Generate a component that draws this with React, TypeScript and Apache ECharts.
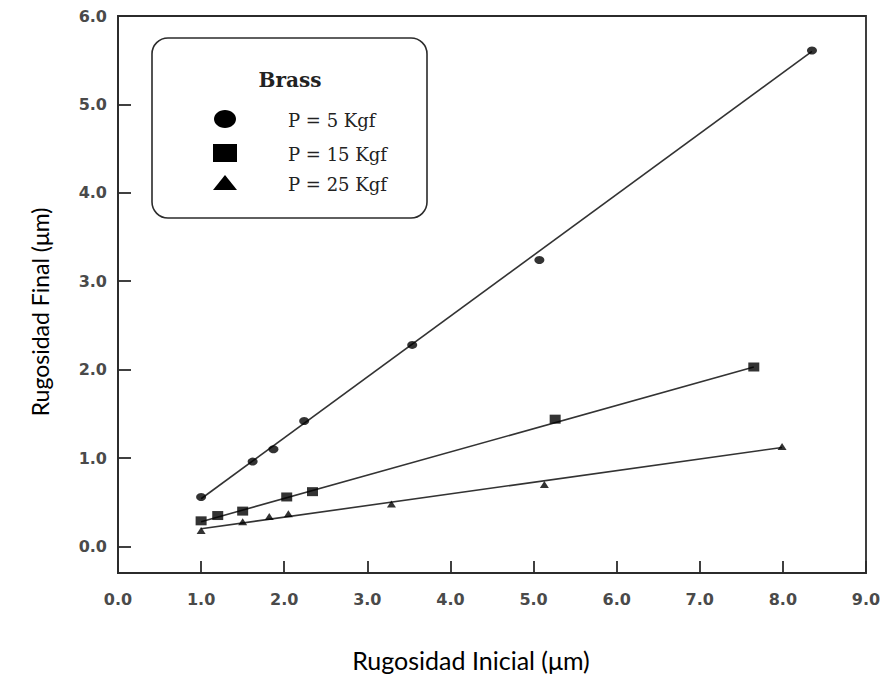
import React, { useEffect, useRef } from "react";
import * as echarts from "echarts";

// Data
const p5Points: [number, number][] = [
  [1.0, 0.56], [1.62, 0.96], [1.87, 1.1], [2.24, 1.42], [3.54, 2.28], [5.07, 3.24], [8.35, 5.61],
];
const p15Points: [number, number][] = [
  [1.0, 0.29], [1.2, 0.35], [1.5, 0.4], [2.03, 0.56], [2.34, 0.62], [5.26, 1.44], [7.65, 2.03],
];
const p25Points: [number, number][] = [
  [1.0, 0.18], [1.5, 0.28], [1.82, 0.34], [2.05, 0.37], [3.29, 0.48], [5.13, 0.7], [7.99, 1.13],
];
// Fitted straight lines (end points)
const p5Fit: [number, number][] = [[1.0, 0.54], [8.35, 5.6]];
const p15Fit: [number, number][] = [[1.0, 0.28], [7.65, 2.03]];
const p25Fit: [number, number][] = [[1.0, 0.2], [7.99, 1.12]];

const seriesNames = ["P = 5 Kgf", "P = 15 Kgf", "P = 25 Kgf"];
const legendTitle = "Brass";
const xTicks = [0, 1, 2, 3, 4, 5, 6, 7, 8, 9];
const yTicks = [0, 1, 2, 3, 4, 5, 6];
const xTitle = "Rugosidad Inicial (μm)";
const yTitle = "Rugosidad Final (μm)";

export default function App() {
  const ref = useRef<HTMLDivElement>(null);
  useEffect(() => {
    if (!ref.current) return;
    const chart = echarts.init(ref.current, null, { renderer: "svg" });
    const ink = "#2b2b2b";
    const tickFont = {
      fontFamily: "DejaVu Sans",
      fontWeight: "bold" as const,
      fontSize: 16,
      color: "#4a4a4a",
    };
    const lineStyle = { color: "#333", width: 1.6 };
    const legendFont = "DejaVu Serif";
    chart.setOption({
      animation: false,
      backgroundColor: "#fff",
      grid: {
        left: 118,
        right: 19,
        top: 16,
        bottom: 103,
        show: true,
        borderColor: ink,
        borderWidth: 1.8,
        backgroundColor: "transparent",
      },
      xAxis: {
        type: "value",
        min: 0,
        max: 9,
        interval: 1,
        axisLine: { show: true, onZero: false, lineStyle: { color: ink, width: 1.8 } },
        axisTick: { show: true, inside: true, length: 12, lineStyle: { color: ink, width: 1.8 }, customValues: xTicks },
        axisLabel: { ...tickFont, margin: 18, customValues: xTicks, formatter: (v: number) => v.toFixed(1) },
        splitLine: { show: false },
      },
      yAxis: {
        type: "value",
        min: -0.3,
        max: 6,
        axisLine: { show: true, onZero: false, lineStyle: { color: ink, width: 1.8 } },
        axisTick: { show: true, inside: true, length: 13, lineStyle: { color: ink, width: 1.8 }, customValues: yTicks },
        axisLabel: { ...tickFont, margin: 11, customValues: yTicks, formatter: (v: number) => v.toFixed(1) },
        splitLine: { show: false },
      },
      series: [
        { type: "line", data: p5Fit, showSymbol: false, lineStyle, silent: true, z: 1 },
        { type: "line", data: p15Fit, showSymbol: false, lineStyle, silent: true, z: 1 },
        { type: "line", data: p25Fit, showSymbol: false, lineStyle, silent: true, z: 1 },
        {
          name: seriesNames[0], type: "scatter", data: p5Points, symbol: "circle",
          symbolSize: [10, 8], itemStyle: { color: "#000" }, z: 3,
        },
        {
          name: seriesNames[1], type: "scatter", data: p15Points, symbol: "rect",
          symbolSize: [11, 9], itemStyle: { color: "#000" }, z: 3,
        },
        {
          name: seriesNames[2], type: "scatter", data: p25Points, symbol: "triangle",
          symbolSize: [9, 7], itemStyle: { color: "#000" }, z: 3,
        },
      ],
      graphic: [
        {
          type: "rect",
          shape: { x: 152, y: 38, width: 275, height: 180, r: 16 },
          style: { fill: "#fff", stroke: ink, lineWidth: 1.6 },
          z: 10,
        },
        {
          type: "text", x: 290, y: 80, z: 11,
          style: { text: legendTitle, font: `bold 20px "${legendFont}"`, fill: "#222", align: "center", verticalAlign: "middle" },
        },
        { type: "ellipse", shape: { cx: 225, cy: 119, rx: 11, ry: 9 }, style: { fill: "#000" }, z: 11 },
        { type: "rect", shape: { x: 213, y: 144, width: 24, height: 18 }, style: { fill: "#000" }, z: 11 },
        { type: "polygon", shape: { points: [[225, 175], [213, 190], [237, 190]] }, style: { fill: "#000" }, z: 11 },
        {
          type: "text", x: 288, y: 120, z: 11,
          style: { text: seriesNames[0], font: `18px "${legendFont}"`, fill: "#222", verticalAlign: "middle" },
        },
        {
          type: "text", x: 288, y: 154, z: 11,
          style: { text: seriesNames[1], font: `18px "${legendFont}"`, fill: "#222", verticalAlign: "middle" },
        },
        {
          type: "text", x: 288, y: 184, z: 11,
          style: { text: seriesNames[2], font: `18px "${legendFont}"`, fill: "#222", verticalAlign: "middle" },
        },
        {
          type: "text", x: 471, y: 660, z: 11,
          style: { text: xTitle, font: `25px Lato`, fill: "#000", align: "center", verticalAlign: "middle" },
        },
        {
          type: "text", x: 40, y: 312, rotation: Math.PI / 2, z: 11,
          style: { text: yTitle, font: `23px Lato`, fill: "#000", align: "center", verticalAlign: "middle" },
        },
      ],
    });
    return () => chart.dispose();
  }, []);
  return <div ref={ref} style={{ width: 885, height: 676, position: "absolute", left: 0, top: 0 }} />;
}
